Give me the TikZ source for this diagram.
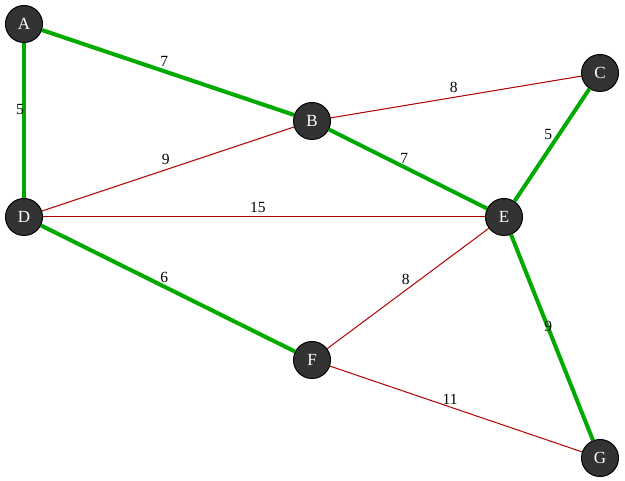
\documentclass[tikz,border=0pt]{standalone}
\usepackage{fontspec}
\setmainfont{Liberation Serif}
\definecolor{treegreen}{RGB}{0,170,0}
\definecolor{edgered}{RGB}{178,0,0}
\definecolor{nodegrey}{RGB}{51,51,51}
\tikzset{tree/.style={draw=treegreen,line width=4pt},other/.style={draw=edgered,line width=1pt}}

\begin{document}
\begin{tikzpicture}[x=1pt,y=-1pt]

\tikzset{vertex/.style={shape=circle,fill=nodegrey,draw=black,line width=1pt,inner sep=0pt,minimum size=37pt,text=white,font=\fontsize{17}{17}\selectfont},
weight/.style={font=\fontsize{15.5}{15.5}\selectfont,anchor=south east,inner xsep=0pt,inner ysep=3.5pt,xshift=2pt}}

\useasboundingbox (0,0) rectangle (625,481);

% Vertices
\node[vertex] (A) at (24,24) {A};
\node[vertex] (B) at (312,121) {B};
\node[vertex] (C) at (600,73) {C};
\node[vertex] (D) at (24,217) {D};
\node[vertex] (E) at (504,217) {E};
\node[vertex] (F) at (312,360) {F};
\node[vertex] (G) at (600,458) {G};

% Edges not in the tree
\draw[other] (B) -- node[weight] {8} (C);
\draw[other] (D) -- node[weight] {9} (B);
\draw[other] (D) -- node[weight] {15} (E);
\draw[other] (F) -- node[weight] {8} (E);
\draw[other] (F) -- node[weight] {11} (G);

% Spanning tree edges
\draw[tree] (A) -- node[weight] {7} (B);
\draw[tree] (A) -- node[weight] {5} (D);
\draw[tree] (B) -- node[weight] {7} (E);
\draw[tree] (E) -- node[weight] {5} (C);
\draw[tree] (D) -- node[weight] {6} (F);
\draw[tree] (E) -- node[weight] {9} (G);

\end{tikzpicture}
\end{document}
